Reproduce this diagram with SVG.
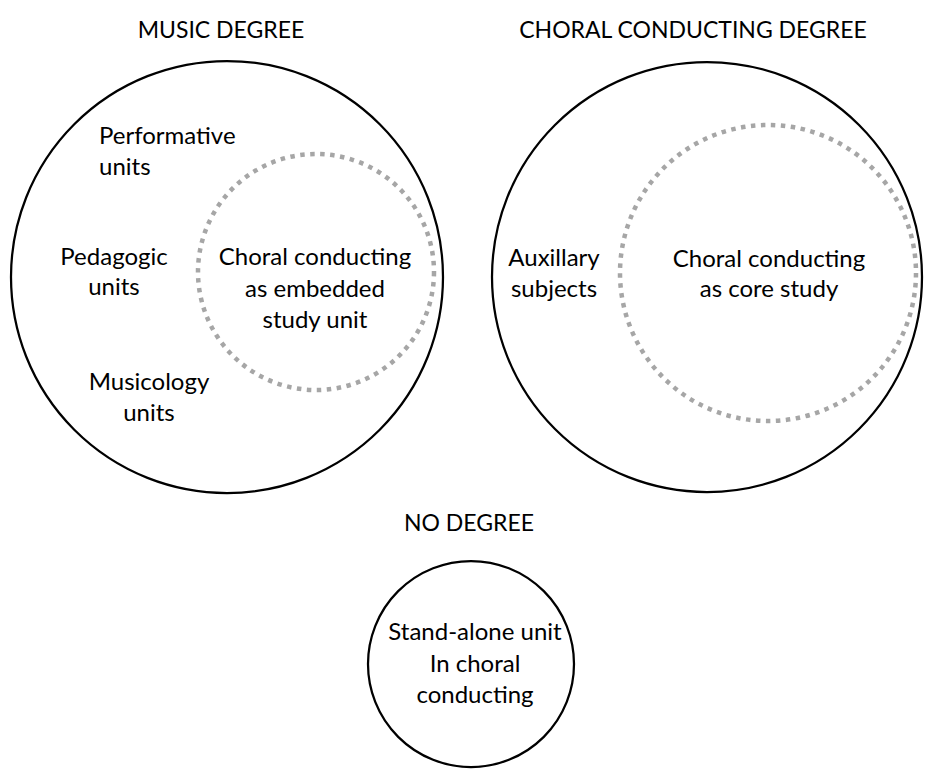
<svg xmlns="http://www.w3.org/2000/svg" width="925" height="769" viewBox="0 0 925 769">
<style>
.bg{fill:#fff}
.outer{fill:none;stroke:#000;stroke-width:2.25}
.dot{fill:none;stroke:#a6a6a6;stroke-width:4.5;stroke-dasharray:4.5 5.5}
text{font-family:Lato,"Open Sans","Liberation Sans",sans-serif;font-size:24px;fill:#000}
.title{font-size:23px}
.c{text-anchor:middle}
</style>
<rect class="bg" x="0" y="0" width="925" height="769"/>
<g id="music-degree">
  <text class="title c" x="221" y="38">MUSIC DEGREE</text>
  <circle class="outer" cx="227" cy="277" r="216"/>
  <g id="performative">
    <text x="99" y="144">Performative</text>
    <text x="99" y="175">units</text>
  </g>
  <g id="pedagogic">
    <text class="c" x="114" y="265">Pedagogic</text>
    <text class="c" x="114" y="295">units</text>
  </g>
  <g id="musicology">
    <text class="c" x="149" y="390">Musicology</text>
    <text class="c" x="149" y="421">units</text>
  </g>
  <g id="embedded">
    <circle class="dot" cx="316" cy="272" r="118"/>
    <text class="c" x="315" y="265">Choral conducting</text>
    <text class="c" x="315" y="297">as embedded</text>
    <text class="c" x="315" y="328">study unit</text>
  </g>
</g>
<g id="choral-degree">
  <text class="title c" x="693" y="38">CHORAL CONDUCTING DEGREE</text>
  <circle class="outer" cx="707" cy="277" r="215"/>
  <g id="auxillary">
    <text class="c" x="554" y="266">Auxillary</text>
    <text class="c" x="554" y="297">subjects</text>
  </g>
  <g id="core">
    <circle class="dot" cx="768" cy="273" r="148"/>
    <text class="c" x="769" y="267">Choral conducting</text>
    <text class="c" x="769" y="297">as core study</text>
  </g>
</g>
<g id="no-degree">
  <text class="title c" x="469" y="531">NO DEGREE</text>
  <circle class="outer" cx="471" cy="664" r="103"/>
  <text class="c" x="475" y="640">Stand-alone unit</text>
  <text class="c" x="475" y="672">In choral</text>
  <text class="c" x="475" y="703">conducting</text>
</g>
<g id="connectors"/>
</svg>
